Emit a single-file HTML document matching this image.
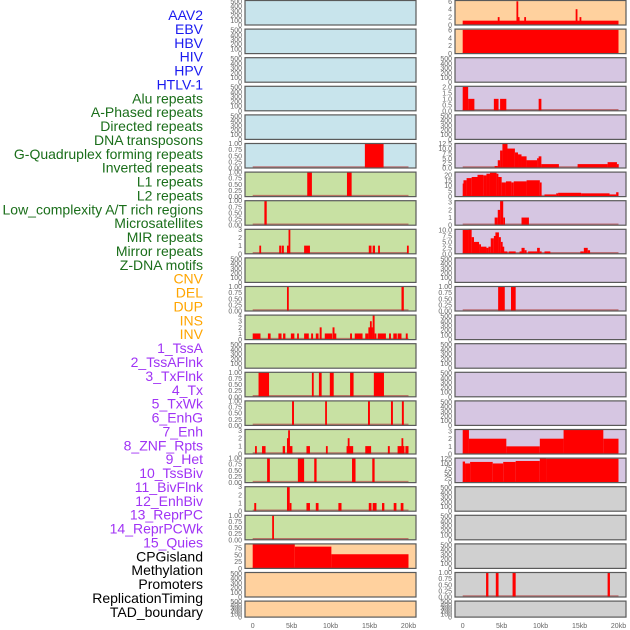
<!DOCTYPE html>
<html><head><meta charset="utf-8">
<style>
html,body{margin:0;padding:0;background:#fff;width:630px;height:630px;overflow:hidden;}
svg{display:block;font-family:"Liberation Sans",sans-serif;}
</style></head>
<body>
<svg id="chart" width="630" height="630" viewBox="0 0 630 630"></svg>
<script>
// ---- labels ----
const labelNames = ["AAV2","EBV","HBV","HIV","HPV","HTLV-1","Alu repeats","A-Phased repeats","Directed repeats","DNA transposons","G-Quadruplex forming repeats","Inverted repeats","L1 repeats","L2 repeats","Low_complexity A/T rich regions","Microsatellites","MIR repeats","Mirror repeats","Z-DNA motifs","CNV","DEL","DUP","INS","INV","1_TssA","2_TssAFlnk","3_TxFlnk","4_Tx","5_TxWk","6_EnhG","7_Enh","8_ZNF_Rpts","9_Het","10_TssBiv","11_BivFlnk","12_EnhBiv","13_ReprPC","14_ReprPCWk","15_Quies","CPGisland","Methylation","Promoters","ReplicationTiming","TAD_boundary"];
const labelGroupSizes = [6,13,5,15,5];
const labelColors = ["#1a1af0","#1a6e1a","#ffa500","#a033f5","#000000"];
const xTickValues = [0,5,10,15,20];
const xTickLabels = ["0","5kb","10kb","15kb","20kb"];

// ---- track data: [startKb, endKb, value] ----
const aavR = [[0,20,1.1],[4.5,4.7,2],[6.9,7.05,6],[7.05,7.3,2],[7.9,8.1,2],[14.5,14.7,4],[15.0,15.2,2]];
const ebvR = [[0,20,6]];
const aluR = [[0,0.7,2],[0.7,1.5,1],[4.0,4.6,1],[4.8,5.6,1],[9.75,10.1,1]];
const gquadL = [[14.4,16.8,1]];
const gquadR = [[4.1,4.5,1],[4.5,4.8,4],[4.8,5.1,9],[5.1,5.75,12.5],[5.75,6.7,10],[6.7,7.1,8],[7.1,7.55,7],[7.55,8.2,6],[8.2,9.55,4],[9.55,9.75,5],[9.75,10.1,6],[10.1,12.35,2],[14.75,18.6,2],[18.6,19.8,3],[19.8,20,2]];
const l1L = [[7.0,7.6,1],[12.1,12.7,1]];
const l1R = [[0,0.1,12],[0.1,0.5,15],[0.5,1.15,17],[1.15,1.9,18],[1.9,2.65,20],[2.65,3.05,19.5],[3.05,3.5,21],[3.5,4.35,22],[4.35,4.55,21],[4.55,5.0,18],[5.0,5.55,13],[5.55,6.25,14],[6.25,6.55,13],[6.55,8.2,14],[8.2,9.9,15],[9.9,10.1,13],[10.5,12.0,2],[12.0,12.25,3],[12.25,15.2,3.5],[15.2,18.85,3],[18.85,19.7,2],[19.7,20,4]];
const lowL = [[1.5,1.8,1]];
const lowR = [[4.1,4.5,1],[4.5,4.8,2],[4.8,5.2,3.2],[5.2,5.4,1],[7.55,8.5,1]];
const mirL = [[0.85,1.0,1],[3.4,3.6,1],[3.7,4.0,1],[4.4,4.6,1],[4.6,4.75,3],[6.6,7.35,1],[14.9,15.25,1],[15.4,15.7,1],[16.1,16.3,1],[19.8,20,1]];
const mirrorR = [[0,0.75,10],[0.75,1.15,10.3],[1.15,1.45,7],[1.45,2.1,5],[2.1,2.35,4],[2.35,3.05,3],[3.05,3.3,2.5],[3.3,3.6,3],[3.6,4.0,6.5],[4.0,4.2,7.5],[4.2,4.65,9],[4.65,4.9,7],[4.9,5.1,5],[5.1,5.3,3],[5.3,5.75,1],[5.9,6.8,1],[7.3,7.55,1],[7.55,7.95,2.5],[7.95,8.2,1.5],[8.4,9.55,1],[9.55,9.9,2.5],[9.9,10.1,1],[10.5,11.25,1],[15.1,15.55,1],[15.55,16.05,2.5],[16.05,16.35,1.5]];
const delL = [[4.4,4.6,1],[19.1,19.4,1]];
const delR = [[4.55,5.4,1],[6.2,6.8,1]];
const insL = [[0,1.0,1],[1.95,2.3,1],[3.3,3.7,1],[3.9,4.2,1],[4.9,5.35,1],[5.7,5.9,1],[6.6,7.2,1],[7.5,7.75,1],[8.1,8.45,1],[8.6,8.85,2],[9.25,10.2,1],[10.25,10.5,2],[10.5,10.65,1],[12.5,12.75,1],[13.1,14.1,1],[14.45,14.85,1],[14.85,15.05,2],[15.05,15.2,3],[15.2,15.4,2],[15.4,15.65,4],[15.65,15.8,1],[16.05,17.1,1],[17.5,17.75,1],[18.05,18.5,1],[18.6,19.1,1],[19.65,19.9,1]];
const txflnkL = [[0.75,2.1,1],[7.6,7.8,1],[8.5,8.85,1],[9.9,10.4,1],[12.5,12.95,1],[15.55,16.85,1]];
const txL = [[5.05,5.3,1],[9.3,9.5,1],[14.8,15.05,1],[17.75,18.0,1],[19.15,19.4,1]];
const znfL = [[0.3,0.5,1],[1.2,1.65,1],[3.85,4.15,1],[4.4,4.55,2],[4.55,4.7,3],[4.7,5.1,1],[6.9,7.35,1],[9.4,9.6,1],[12.05,12.2,1],[12.2,12.4,2],[12.4,12.9,1],[14.45,15.2,1],[17.35,17.6,1],[18.6,19.1,1],[19.1,19.25,2],[19.25,19.4,1],[19.6,20,1]];
const znfR = [[0,0.8,3.2],[0.8,5.6,2],[5.6,9.9,1],[9.9,12.95,2],[12.95,18.05,3.2],[18.05,20,2]];
const hetL = [[1.85,2.2,1],[5.8,6.6,1],[7.9,8.2,1],[12.75,13.2,1],[15.35,15.65,1]];
const tssbivR = [[0,0.3,110],[0.3,0.95,100],[0.95,3.85,108],[3.85,5.2,100],[5.2,6.8,108],[6.8,9.9,113],[9.9,10.7,128],[10.7,20,125]];
const bivflnkL = [[0.2,0.45,1],[4.4,4.75,3],[4.75,4.9,1],[6.9,7.35,1],[8.1,8.45,1],[11.0,11.4,1],[14.9,15.25,1],[15.4,15.9,1],[16.6,16.9,1],[18.1,18.45,1],[19.0,19.35,1]];
const enhbivL = [[2.5,2.7,1]];
const cpgL = [[0,5.4,88],[5.4,10.1,80],[10.1,20,52]];
const promR = [[3.0,3.3,1],[4.25,4.6,1],[6.4,6.8,1],[18.6,18.9,1]];

// ---- y tick label sets ----
const ticksEmpty = ["0","100","200","300","400","500"];
const ticksEmptyVals = [0,100,200,300,400,500];
const ticksUnit = ["0.00","0.25","0.50","0.75","1.00"];
const ticksUnitVals = [0,0.25,0.5,0.75,1];

const BLUE="#c8e4ec", GREEN="#c8e1a3", ORANGE="#ffd19e", PURPLE="#d6c6e2", GRAY="#d0d0d0";
// [row, col, bg, ymax, tickVals, tickLabels, data]
const panels = [];
function P(r,c,bg,ymax,tv,tl,d){panels.push({r,c,bg,ymax,tv,tl,d});}
for(let r=0;r<22;r++){
  const lbg = r<6?BLUE:(r<19?GREEN:ORANGE);
  const rbg = r<2?ORANGE:(r<17?PURPLE:GRAY);
  P(r,0,lbg,520,ticksEmptyVals,ticksEmpty,null);
  P(r,1,rbg,520,ticksEmptyVals,ticksEmpty,null);
}
function setP(r,c,ymax,tv,tl,d){const p=panels[r*2+c];p.ymax=ymax;p.tv=tv;p.tl=tl;p.d=d;}
setP(0,1,6.2,[0,2,4,6],["0","2","4","6"],aavR);
setP(1,1,6.2,[0,2,4,6],["0","2","4","6"],ebvR);
setP(3,1,2.05,[0,0.5,1,1.5,2],["0.0","0.5","1.0","1.5","2.0"],aluR);
setP(5,0,1,ticksUnitVals,ticksUnit,gquadL);
setP(5,1,12.6,[0,2.5,5,7.5,10,12.5],["0.0","2.5","5.0","7.5","10.0","12.5"],gquadR);
setP(6,0,1,ticksUnitVals,ticksUnit,l1L);
setP(6,1,22.5,[0,5,10,15,20],["0","5","10","15","20"],l1R);
setP(7,0,1,ticksUnitVals,ticksUnit,lowL);
setP(7,1,3.2,[0,1,2,3],["0","1","2","3"],lowR);
setP(8,0,3,[0,1,2,3],["0","1","2","3"],mirL);
setP(8,1,10.3,[0,2.5,5,7.5,10],["0.0","2.5","5.0","7.5","10.0"],mirrorR);
setP(10,0,1,ticksUnitVals,ticksUnit,delL);
setP(10,1,1,ticksUnitVals,ticksUnit,delR);
setP(11,0,4,[0,1,2,3,4],["0","1","2","3","4"],insL);
setP(13,0,1,ticksUnitVals,ticksUnit,txflnkL);
setP(14,0,1,ticksUnitVals,ticksUnit,txL);
setP(15,0,3.1,[0,1,2,3],["0","1","2","3"],znfL);
setP(15,1,3.2,[0,1,2,3],["0","1","2","3"],znfR);
setP(16,0,1,ticksUnitVals,ticksUnit,hetL);
setP(16,1,128,[0,25,50,75,100,125],["0","25","50","75","100","125"],tssbivR);
setP(17,0,3,[0,1,2,3],["0","1","2","3"],bivflnkL);
setP(18,0,1,ticksUnitVals,ticksUnit,enhbivL);
setP(19,0,90,[0,25,50,75],["0","25","50","75"],cpgL);
setP(20,1,1,ticksUnitVals,ticksUnit,promR);

const NS="http://www.w3.org/2000/svg";
const svg=document.getElementById('chart');
function el(tag,attrs,parent){const e=document.createElementNS(NS,tag);for(const k in attrs)e.setAttribute(k,attrs[k]);(parent||svg).appendChild(e);return e;}

// labels
let li=0;
labelGroupSizes.forEach((n,g)=>{for(let k=0;k<n;k++){
  const t=el('text',{x:203,y:15+li*13.88+5,'text-anchor':'end','font-size':'14',fill:labelColors[g]});
  t.textContent=labelNames[li];
  
  
  li++;}});

const colX=[{px:245,pw:171,x0:252.7,x1:408.5},{px:455,pw:171,x0:462.7,x1:618.5}];
function sx(c,kb){const C=colX[c];return C.x0+(C.x1-C.x0)*kb/20;}

panels.forEach(p=>{
  const C=colX[p.c];
  const top=0.5+p.r*28.6, h=p.r===21?16:24.5, bot=top+h;
  const g=el('g',{});
  
  
  el('rect',{x:C.px,y:top,width:C.pw,height:h,fill:p.bg},g);
  const sy=v=>bot-(v/p.ymax)*h;
  if(p.d){
    el('line',{x1:sx(p.c,0),x2:sx(p.c,20),y1:bot-1,y2:bot-1,stroke:'#b04848','stroke-width':1.5,'stroke-opacity':0.7},g);
    p.d.forEach(s=>{
      const x=sx(p.c,s[0]);let w=sx(p.c,s[1])-x;if(w<1.8)w=1.8;
      const y=sy(Math.min(s[2],p.ymax));
      const b=el('rect',{x:x,y:y,width:w,height:bot-y,fill:'#ff0000'},g);
      
      
    });
  }
  el('rect',{x:C.px,y:top,width:C.pw,height:h,fill:'none',stroke:'#5a5a5a','stroke-width':1.2},g);
  p.tv.forEach((v,i)=>{
    const t=el('text',{x:C.px-3,y:sy(v)+2.5,'text-anchor':'end','font-size':'7',fill:'#666'},g);
    t.textContent=p.tl[i];
    
    
  });
});

[0,1].forEach(c=>{
  xTickValues.forEach((v,i)=>{
    const t=el('text',{x:sx(c,v),y:628,'text-anchor':'middle','font-size':'7',fill:'#666'});
    t.textContent=xTickLabels[i];
    
    
  });
});
</script>
</body></html>
